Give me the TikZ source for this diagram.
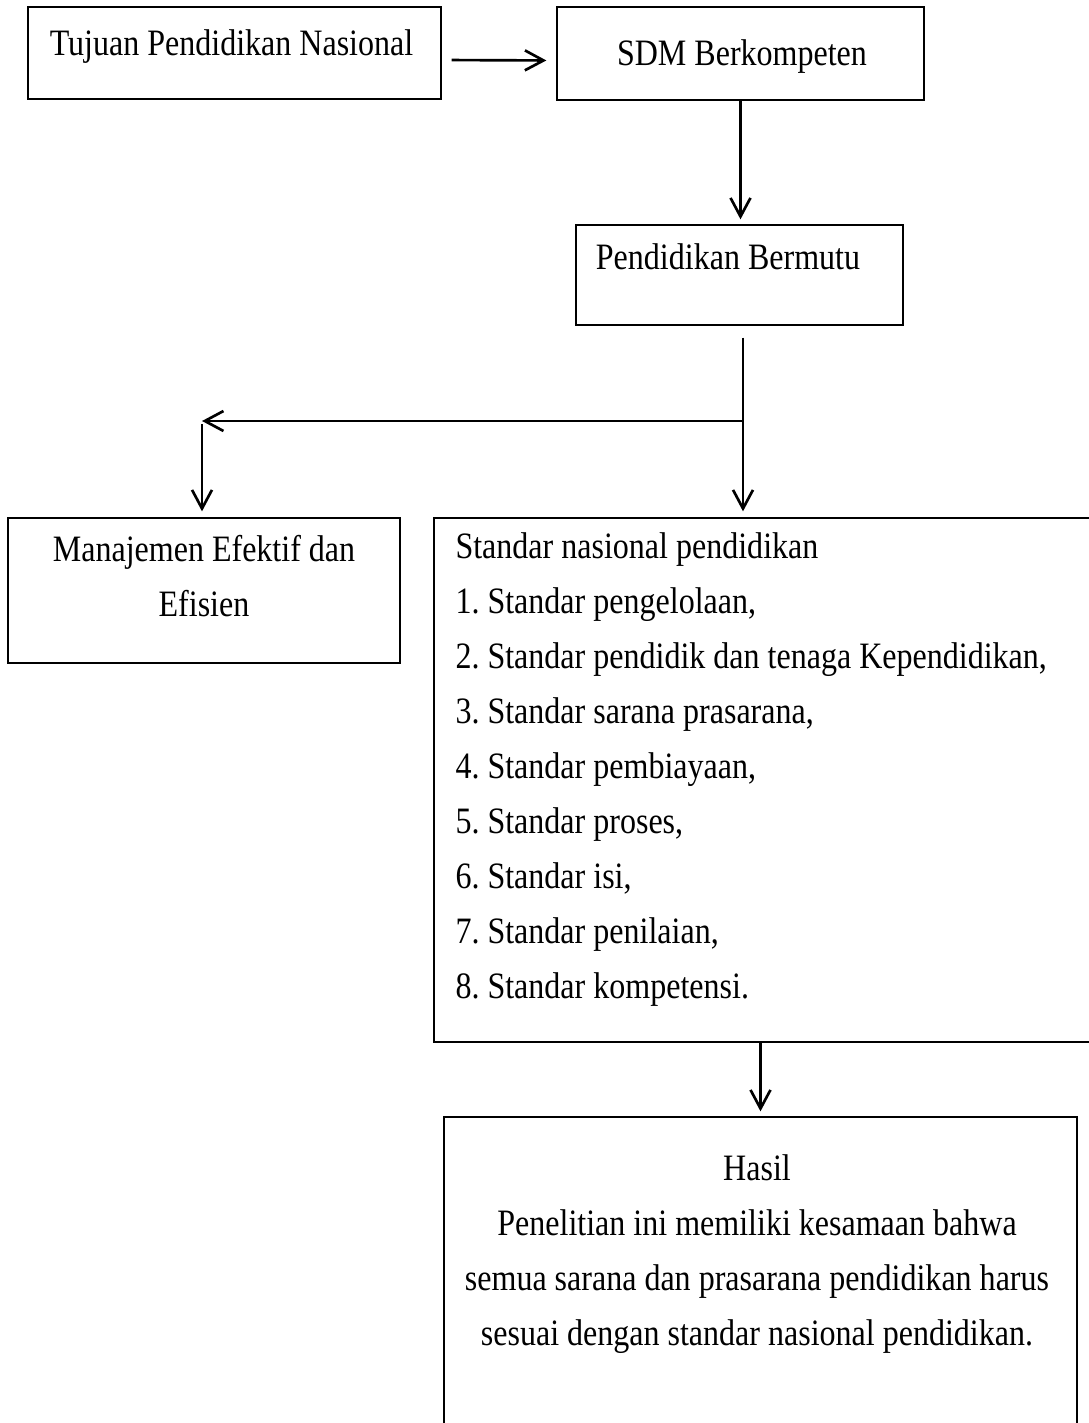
\documentclass[tikz,border=0pt]{standalone}
\usepackage{fontspec}
\setmainfont[FakeStretch=0.86]{Liberation Serif}
\usetikzlibrary{positioning,arrows.meta}
\newcommand{\px}{0.376pt}
\frenchspacing
\tikzset{
  box/.style={draw,line width=0.5pt,inner sep=0pt},
  txt/.style={inner sep=0pt,font=\fontsize{14}{20.7}\selectfont},
  flow/.style={line width=1pt,-{Straight Barb[length=7pt,width=7.5pt]}},
}

\begin{document}
\begin{tikzpicture}[x=\px,y=-\px]
    \path[use as bounding box,fill=white] (0,0) rectangle (1089,1423);
    \clip (0,0) rectangle (1089,1423);
    % boxes
    \node[box,minimum width=413*\px,minimum height=92*\px] (tujuan) at (234.5,53) {};
    \node[box,minimum width=367*\px,minimum height=93*\px] (sdm) at (740.5,53.5) {};
    \node[box,minimum width=327*\px,minimum height=100*\px] (mutu) at (739.5,275) {};
    \node[box,minimum width=392*\px,minimum height=145*\px] (mgmt) at (204,590.5) {};
    \node[box,minimum width=666*\px,minimum height=524*\px] (snp) at (767,780) {};
    \node[box,minimum width=633*\px,minimum height=333*\px] (hasil) at (760.5,1283.5) {};
    % texts
    \node[txt] (tujuanT) at (231.5,47) {Tujuan Pendidikan Nasional};
    \node[txt] (sdmT) at (742,57) {SDM Berkompeten};
    \node[txt] (mutuT) at (728,257) {Pendidikan Bermutu};
    \node[txt,align=center] (mgmtT) at (204,576.5) {Manajemen Efektif dan\\Efisien};
    \node[txt,align=left,anchor=west] (snpT) at (455,769.5) {Standar nasional pendidikan\\
      1. Standar pengelolaan,\\
      2. Standar pendidik dan tenaga Kependidikan,\\
      3. Standar sarana prasarana,\\
      4. Standar pembiayaan,\\
      5. Standar proses,\\
      6. Standar isi,\\
      7. Standar penilaian,\\
      8. Standar kompetensi.};
    \node[txt,align=center] (hasilT) at (757,1254) {Hasil\\
      Penelitian ini memiliki kesamaan bahwa\\
      semua sarana dan prasarana pendidikan harus\\
      sesuai dengan standar nasional pendidikan.};
    % arrows
    \coordinate (fork) at (743,421);
    \coordinate (turn) at (202,421);
    \draw[flow,shorten <=10*\px,shorten >=10*\px] ([yshift=-7*\px]tujuan.east) -- ([yshift=-7*\px]sdm.west);
    \draw[flow,shorten >=5*\px] (sdm.south) -- (sdm.south |- mutu.north);
    \draw[flow,shorten <=12*\px,shorten >=6*\px] (fork |- mutu.south) -- (fork |- snp.north);
    \draw[flow] (fork) -- (turn);
    \draw[flow,shorten <=3*\px,shorten >=6*\px] (turn) -- (turn |- mgmt.north);
    \draw[flow,shorten >=5*\px] (hasil.north |- snp.south) -- (hasil.north);
\end{tikzpicture}
\end{document}
